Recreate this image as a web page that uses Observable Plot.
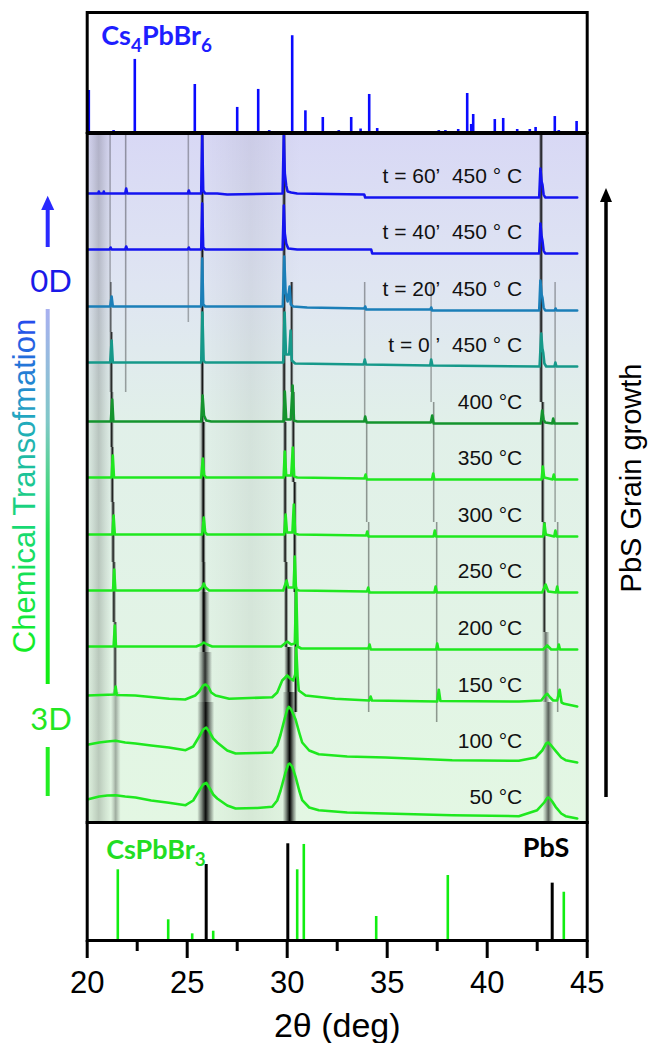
<!DOCTYPE html>
<html><head><meta charset="utf-8">
<script src="https://cdn.jsdelivr.net/npm/d3@7"></script>
<script src="https://cdn.jsdelivr.net/npm/@observablehq/plot@0.6"></script>
<style>
body{margin:0;background:#fff;}
#wrap{position:relative;width:651px;height:1043px;overflow:hidden;font-family:"Liberation Sans",Arial,sans-serif;}
#wrap > svg{position:absolute;left:0;}
</style></head><body>
<svg width="0" height="0" style="position:absolute;left:0;top:0">
<defs>
<linearGradient id="bgGrad" x1="0" y1="0" x2="0" y2="1">
<stop offset="0" stop-color="#d8d8f5"/>
<stop offset="0.22" stop-color="#dfe5f2"/>
<stop offset="0.42" stop-color="#e1f0e9"/>
<stop offset="1" stop-color="#e3f7e3"/>
</linearGradient>
<linearGradient id="streakGrad" x1="0" y1="0" x2="1" y2="0">
<stop offset="0" stop-color="#000" stop-opacity="0"/>
<stop offset="0.25" stop-color="#000" stop-opacity="0.45"/>
<stop offset="0.5" stop-color="#000" stop-opacity="1"/>
<stop offset="0.75" stop-color="#000" stop-opacity="0.45"/>
<stop offset="1" stop-color="#000" stop-opacity="0"/>
</linearGradient>
</defs></svg>
<div id="wrap"></div>
<script>
// ---------- data ----------
const xDomain = [20, 45];
const xTicks = [20, 25, 30, 35, 40, 45];
const xMinorTicks = [22.5, 27.5, 32.5, 37.5, 42.5];

// Cs4PbBr6 reference pattern (top panel)
const cs4Pos = [20.08, 21.32, 22.38, 25.38, 27.5, 28.55, 29.1, 30.25, 30.91, 31.78, 32.58, 33.2, 33.67, 34.1, 34.5, 36.63, 37.58, 37.91, 38.55, 39.0, 39.2, 39.3, 40.38, 40.8, 41.5, 42.13, 42.42, 43.38, 43.58, 44.47];
const cs4Int = [43.4, 2, 75.5, 49.6, 25.9, 44.5, 2, 100, 22.4, 15.5, 2, 15.5, 3.6, 39.3, 4.1, 1, 2, 2, 3.1, 40.3, 8.3, 18.6, 13.4, 14.5, 3.1, 3.1, 5.2, 16.5, 2, 11.4];

// CsPbBr3 and PbS reference patterns (bottom panel)
const csPos = [21.53, 24.05, 25.25, 26.3, 30.5, 30.83, 34.45, 38.03, 43.83];
const csInt = [73.1, 21.4, 6.9, 9.6, 73.1, 99.3, 24.8, 67.2, 49.9];
const pbsPos = [25.95, 30.03, 43.25];
const pbsInt = [78.6, 100, 59.3];

// in-situ patterns, bottom (50 °C) to top (t = 60')
const curveLabels = ["50 °C", "100 °C", "150 °C", "200 °C", "250 °C", "300 °C", "350 °C", "400 °C",
  "t = 0 ’  450 ° C", "t = 20’  450 ° C", "t = 40’  450 ° C", "t = 60’  450 ° C"];
const curveOffsets = [4, 60, 116, 173, 230, 286, 343, 399, 456, 512, 569, 625];
const curveColors = ["#1fe81f", "#1fe81f", "#1fe81f", "#1fe81f", "#1fe81f", "#1fe81f", "#1fe81f", "#14942e",
  "#16998a", "#1b7fb8", "#1414f0", "#1414f0"];

const c50 = [[20,19],[20.6,22],[21.0,23],[21.42,23.3],[21.9,22],[22.42,21],[23.2,18],[24.08,15.7],[24.92,13.3],[25.3,18],[25.6,28],[25.8,34],[25.95,35.7],[26.1,31],[26.3,24],[26.5,20],[27.0,13],[27.42,10],[28.5,10.5],[29.25,11.7],[29.5,18],[29.67,28],[29.9,45],[30.05,54],[30.12,55],[30.25,52],[30.42,41.7],[30.6,28],[30.75,18.3],[31.1,11],[31.58,8.3],[33,6],[34.92,5],[38.25,3.3],[41.58,2.3],[42.5,8.3],[42.85,16],[43.0,20.5],[43.08,21],[43.25,17],[43.42,11.7],[43.7,5],[43.92,2.3],[44.5,0]];
const c100 = [[20,17.7],[20.6,20],[21.0,21],[21.42,21.7],[21.9,20],[22.42,19],[23.2,17],[24.08,15],[24.92,12.3],[25.3,16],[25.6,26],[25.8,33],[25.95,35],[26.1,31],[26.3,24],[26.5,20],[27.0,12],[27.42,9],[28.5,9.5],[29.25,10],[29.5,17],[29.67,28],[29.85,42],[30.0,53],[30.08,55.7],[30.2,53],[30.42,43],[30.6,30],[30.75,20],[31.1,12],[31.58,8.3],[33,6],[34.92,5],[38.25,2.3],[41.58,1.7],[42.42,5],[42.75,12],[42.95,19],[43.05,20],[43.2,17],[43.42,11.7],[43.7,5],[43.92,2.3],[44.5,0]];
const c150 = [[20,11],[21.36,12],[21.42,20],[21.48,11.5],[22.4,11],[24.1,7.7],[24.9,7],[25.4,11],[25.6,15],[25.8,21],[25.92,22],[26.05,20],[26.2,14],[26.42,11],[27.1,7.7],[29.25,9.3],[29.5,14],[29.75,26],[30.0,31],[30.15,28],[30.3,26],[30.4,32],[30.45,59],[30.52,30],[30.58,16],[30.92,11],[32.4,7.7],[34.1,6],[34.17,10],[34.24,6],[37.5,5],[37.58,16.7],[37.66,5.5],[41.6,5],[42.7,6],[42.9,11],[43.0,12.7],[43.15,9],[43.3,6],[43.5,6],[43.62,16.7],[43.72,4],[43.85,2.7],[44.5,0]];
const c200 = [[20,3],[21.32,3],[21.38,24],[21.44,3],[25.45,3],[25.7,5],[25.83,7],[26.0,5],[26.25,3],[29.7,3],[30.0,8],[30.2,5],[30.38,6],[30.45,62],[30.52,3],[30.7,1],[34.06,1],[34.12,5],[34.18,0],[37.45,0],[37.5,6],[37.56,0],[42.8,0],[43.0,4],[43.2,0],[43.52,0],[43.58,5],[43.64,0],[44.5,0]];
const c250 = [[20,2],[21.29,2],[21.35,23],[21.41,2],[25.55,2],[25.75,5],[25.83,9],[25.92,5],[26.1,2],[29.8,2],[29.97,12],[30.05,5],[30.32,5],[30.38,36],[30.44,3],[30.6,2],[33.99,1],[34.05,5],[34.11,0],[37.36,0],[37.42,6],[37.48,0],[42.75,0],[42.92,8],[43.05,1],[43.44,0],[43.5,6],[43.56,0],[44.5,0]];
const c300 = [[20,2],[21.26,2],[21.32,21],[21.38,2],[25.75,2],[25.83,19],[25.9,4],[26.0,2],[29.85,2],[29.92,22],[29.99,4],[30.26,4],[30.33,32],[30.4,3],[30.55,2],[33.95,1],[34.0,5],[34.06,0],[37.32,0],[37.38,6],[37.44,0],[42.8,0],[42.86,13],[42.93,2],[43.35,0],[43.41,6],[43.47,0],[44.5,0]];
const c350 = [[20,2],[21.22,2],[21.28,24],[21.34,2],[25.7,2],[25.78,21],[25.85,4],[25.95,2],[29.82,2],[29.88,28],[29.95,4],[30.2,4],[30.28,32],[30.35,3],[30.5,2],[33.86,1],[33.92,5],[33.98,0],[37.24,0],[37.3,6],[37.36,0],[42.72,0],[42.78,13],[42.85,2],[43.27,0],[43.33,5],[43.39,0],[44.5,0]];
const c400 = [[20,2],[21.18,2],[21.25,24],[21.31,2],[25.7,2],[25.77,28],[25.84,8],[25.95,3],[26.2,2],[29.82,2],[29.88,32],[29.95,4],[30.18,4],[30.27,38],[30.34,3],[30.5,2],[33.85,2],[33.9,7],[33.97,1],[37.18,1],[37.25,8],[37.32,0],[42.68,0],[42.75,13],[42.82,4],[42.9,1],[43.25,0],[43.3,5],[43.36,0],[44.5,0]];
const c0m = [[20,4],[21.15,4],[21.22,26],[21.28,4],[25.7,4],[25.76,54],[25.82,6],[25.9,4],[29.8,4],[29.87,54],[29.94,12],[30.1,12],[30.17,36],[30.23,6],[30.4,3],[33.82,2],[33.88,7],[33.94,2],[37.15,1],[37.2,7],[37.26,1],[42.62,0],[42.7,33],[42.76,18],[42.8,14],[42.86,3],[42.95,0],[43.36,0],[43.41,4],[43.46,0],[44.5,0]];
const c20m = [[20,4],[21.15,4],[21.22,14],[21.28,4],[25.7,4],[25.75,52],[25.8,6],[25.9,4],[29.78,4],[29.85,54],[29.92,18],[30.02,9],[30.12,24],[30.18,6],[30.3,4],[31,3],[33.85,2],[33.9,4],[33.95,1],[37.15,1],[37.2,3],[37.25,0],[42.6,0],[42.66,30],[42.72,16],[42.76,13],[42.82,3],[42.9,0],[43.37,0],[43.42,2],[43.47,0],[44.5,0]];
const c40m = [[20,4],[21.12,4],[21.17,6],[21.22,4],[21.9,4],[21.95,7],[22.0,4],[25.03,4],[25.08,6],[25.13,4],[25.7,4],[25.75,50],[25.8,6],[25.9,4],[29.77,4],[29.83,48],[29.88,20],[29.95,10],[30.05,5],[30.5,4],[34.2,4],[34.25,0],[42.6,0],[42.66,30],[42.72,17],[42.76,13],[42.82,3],[42.9,0],[44.5,0]];
const c60m = [[20,4],[20.55,4],[20.58,6],[20.62,4],[20.8,4],[20.83,6],[20.86,4],[21.9,4],[21.95,9],[22.0,4],[25.03,4],[25.08,7],[25.13,4],[25.7,4],[25.75,62],[25.8,7],[25.9,4],[26.5,4],[27.0,3],[29.77,4],[29.83,62],[29.88,24],[29.95,12],[30.02,6],[30.2,5],[30.5,4],[33.85,3],[33.9,0],[42.6,0],[42.66,29],[42.72,16],[42.76,13],[42.82,3],[42.9,0],[44.5,0]];
const curves = [c50, c100, c150, c200, c250, c300, c350, c400, c0m, c20m, c40m, c60m];

// intensity streaks of the 2D map behind the patterns: [2θ, width, from, to, darkness]
const streaks = [
  [20.6, 1.3, 0, 689, 0.18],
  [28.2, 5.0, 0, 689, 0.06],
  [21.45, 0.5, 0, 130, 0.3],
  [21.42, 0.22, 130, 200, 0.85],
  [21.36, 0.22, 200, 260, 0.95],
  [21.32, 0.22, 260, 320, 0.95],
  [21.28, 0.22, 320, 375, 0.95],
  [21.25, 0.22, 375, 430, 0.95],
  [21.23, 0.22, 430, 490, 0.9],
  [21.2, 0.18, 490, 540, 0.65],
  [21.17, 0.14, 540, 689, 0.35],
  [21.95, 0.14, 430, 689, 0.4],
  [25.08, 0.14, 500, 689, 0.35],
  [25.95, 0.85, 0, 120, 0.95],
  [25.92, 0.7, 120, 170, 0.8],
  [25.88, 0.55, 170, 230, 0.65],
  [25.8, 0.4, 230, 400, 0.35],
  [25.85, 0.22, 170, 260, 1],
  [25.83, 0.22, 260, 400, 1],
  [25.78, 0.22, 400, 689, 1],
  [30.15, 0.7, 0, 130, 1],
  [30.1, 0.45, 130, 175, 0.95],
  [29.97, 0.22, 175, 260, 1],
  [29.92, 0.22, 260, 400, 1],
  [29.87, 0.22, 400, 689, 1],
  [30.45, 0.22, 110, 230, 1],
  [30.4, 0.22, 230, 340, 1],
  [30.33, 0.22, 340, 430, 0.95],
  [30.25, 0.2, 430, 540, 0.9],
  [34.1, 0.14, 110, 300, 0.45],
  [34.0, 0.14, 300, 400, 0.45],
  [33.9, 0.14, 400, 540, 0.4],
  [37.5, 0.14, 100, 300, 0.45],
  [37.35, 0.14, 300, 420, 0.45],
  [37.22, 0.14, 420, 540, 0.4],
  [43.08, 0.55, 0, 120, 0.6],
  [42.95, 0.4, 120, 190, 0.55],
  [42.88, 0.22, 190, 300, 0.9],
  [42.8, 0.22, 300, 420, 0.95],
  [42.72, 0.22, 420, 689, 1],
  [43.55, 0.14, 110, 300, 0.45],
  [43.42, 0.14, 300, 540, 0.4]
];

// ---------- layout constants ----------
const W = 651, ML = 86.7, MR = 64.3;
const FONT = "Liberation Sans, Arial, sans-serif";
const labelX = 41.75;
const wrap = document.getElementById("wrap");

function place(svg, top) { svg.style.top = top + "px"; wrap.appendChild(svg); return svg; }

function subscriptify(svg, raw, parts, shift) {
  svg.querySelectorAll("text").forEach(t => {
    if (t.textContent !== raw) return;
    t.textContent = "";
    let down = false;
    parts.forEach(([s, sub]) => {
      const ts = document.createElementNS("http://www.w3.org/2000/svg", "tspan");
      ts.textContent = s;
      if (sub) { ts.setAttribute("font-size", "70%"); ts.setAttribute("dy", shift); down = true; }
      else if (down) { ts.setAttribute("dy", -shift); down = false; }
      t.appendChild(ts);
    });
  });
}

// ---------- top panel ----------
const topData = cs4Pos.map((x, i) => ({x, h: cs4Int[i]}));
const topPlot = Plot.plot({
  width: W, height: 133, marginLeft: ML, marginRight: MR, marginTop: 12, marginBottom: 1,
  x: {domain: xDomain, axis: null},
  y: {domain: [0, 124], axis: null},
  style: {fontFamily: FONT, background: "transparent", overflow: "visible"},
  marks: [
    Plot.ruleX(topData, {x: "x", y1: 0, y2: "h", stroke: "#0a0aff", strokeWidth: 2.6}),
    Plot.text(["Cs4PbBr6"], {text: d => d, frameAnchor: "top-left", dx: 14, dy: 32, lineAnchor: "bottom",
      fontFamily: "Lato", fontWeight: "bold", fontSize: 27, fill: "#1e1eff"}),
    Plot.frame({stroke: "#000", strokeWidth: 3})
  ]
});
subscriptify(topPlot, "Cs4PbBr6", [["Cs"], ["4", true], ["PbBr"], ["6", true]], 7);
place(topPlot, 0);

// ---------- middle panel ----------
const midMarks = [
  Plot.frame({fill: "url(#bgGrad)", stroke: "none"}),
  Plot.rect(streaks, {x1: d => d[0] - d[1] / 2, x2: d => d[0] + d[1] / 2, y1: d => d[2], y2: d => d[3],
    fill: "url(#streakGrad)", fillOpacity: d => d[4], clip: true})
];
curves.forEach((pts, i) => {
  midMarks.push(Plot.line(pts, {x: d => d[0], y: d => curveOffsets[i] + d[1], stroke: curveColors[i],
    strokeWidth: 2.6, strokeLinejoin: "round", clip: true}));
});
midMarks.push(Plot.text(curveLabels.map((l, i) => ({l: l.replace(/  /g, "\u00a0 "), y: curveOffsets[i]})), {
  x: () => labelX, y: "y", text: "l", textAnchor: "end", lineAnchor: "bottom", dy: -14.5,
  fontSize: 21, fill: "#111"}));
midMarks.push(Plot.frame({stroke: "#000", strokeWidth: 3}));
const midPlot = Plot.plot({
  width: W, height: 693, marginLeft: ML, marginRight: MR, marginTop: 2, marginBottom: 2,
  x: {domain: xDomain, axis: null},
  y: {domain: [0, 689], axis: null},
  opacity: {type: "identity"},
  style: {fontFamily: FONT, background: "transparent", overflow: "visible"},
  marks: midMarks
});
place(midPlot, 131);

// ---------- bottom panel ----------
const csData = csPos.map((x, i) => ({x, h: csInt[i]}));
const pbsData = pbsPos.map((x, i) => ({x, h: pbsInt[i]}));
const botPlot = Plot.plot({
  width: W, height: 223, marginLeft: ML, marginRight: MR, marginTop: 2, marginBottom: 103,
  x: {domain: xDomain},
  y: {domain: [0, 122], axis: null},
  style: {fontFamily: FONT, background: "transparent", overflow: "visible"},
  marks: [
    Plot.ruleX(csData, {x: "x", y1: 0, y2: "h", stroke: "#11ee11", strokeWidth: 2.6}),
    Plot.ruleX(pbsData, {x: "x", y1: 0, y2: "h", stroke: "#000", strokeWidth: 3}),
    Plot.text(["CsPbBr3"], {text: d => d, frameAnchor: "top-left", dx: 19, dy: 36, lineAnchor: "bottom",
      fontFamily: "Lato", fontWeight: "bold", fontSize: 27, fill: "#22dd22"}),
    Plot.text(["PbS"], {text: d => d, frameAnchor: "top-right", dx: -18, dy: 34, lineAnchor: "bottom",
      textAnchor: "end", fontFamily: "Lato", fontWeight: "bold", fontSize: 27, fill: "#000"}),
    Plot.frame({stroke: "#000", strokeWidth: 3}),
    Plot.axisX({ticks: xTicks, tickSize: 18, tickPadding: 12, fontSize: 31, strokeWidth: 3, label: null, anchor: "bottom", fill: "#000"}),
    Plot.axisX({ticks: xMinorTicks, tickSize: 11, tickFormat: () => "", strokeWidth: 3, label: null, anchor: "bottom"}),
    Plot.text(["2θ (deg)"], {text: d => d, frameAnchor: "bottom", dy: 96, lineAnchor: "bottom", fontSize: 34, fill: "#000"})
  ]
});
subscriptify(botPlot, "CsPbBr3", [["CsPbBr"], ["3", true]], 7);
place(botPlot, 820);

// ---------- side annotations ----------
const ann = `
<svg width="651" height="1043" style="position:absolute;left:0;top:0;pointer-events:none">
<defs>
<linearGradient id="ctGrad" gradientUnits="userSpaceOnUse" x1="-170" y1="0" x2="170" y2="0">
<stop offset="0" stop-color="#12ee22"/>
<stop offset="0.4" stop-color="#18d878"/>
<stop offset="0.7" stop-color="#22a8c0"/>
<stop offset="1" stop-color="#2448ee"/>
</linearGradient>
<linearGradient id="lineGrad" gradientUnits="userSpaceOnUse" x1="0" y1="309" x2="0" y2="684">
<stop offset="0" stop-color="#a8b0f0"/>
<stop offset="0.3" stop-color="#80c8c8"/>
<stop offset="0.6" stop-color="#20e050"/>
<stop offset="1" stop-color="#10ee10"/>
</linearGradient>
</defs>
<line x1="47.7" y1="247" x2="47.7" y2="206" stroke="#2a2aff" stroke-width="4"/>
<polygon points="47.7,195.7 41.2,210 54.2,210" fill="#2a2aff"/>
<text x="51" y="292" text-anchor="middle" font-family="Lato" font-size="31" fill="#1a1ae8">0D</text>
<line x1="47.7" y1="309" x2="47.7" y2="684" stroke="url(#lineGrad)" stroke-width="4"/>
<text transform="translate(35,486) rotate(-90)" text-anchor="middle" font-family="Liberation Sans, Arial" font-size="31" fill="url(#ctGrad)">Chemical Transofmation</text>
<text x="51" y="730" text-anchor="middle" font-family="Lato" font-size="31" fill="#22e622">3D</text>
<line x1="47.7" y1="747" x2="47.7" y2="796" stroke="#22ee22" stroke-width="4"/>
<line x1="606" y1="797" x2="606" y2="200" stroke="#000" stroke-width="3.5"/>
<polygon points="606,188 600,202 612,202" fill="#000"/>
<text transform="translate(641,478) rotate(-90)" text-anchor="middle" font-family="Liberation Sans, Arial" font-size="29" fill="#000">PbS Grain growth</text>
</svg>`;
wrap.insertAdjacentHTML("beforeend", ann);
</script>
</body></html>
